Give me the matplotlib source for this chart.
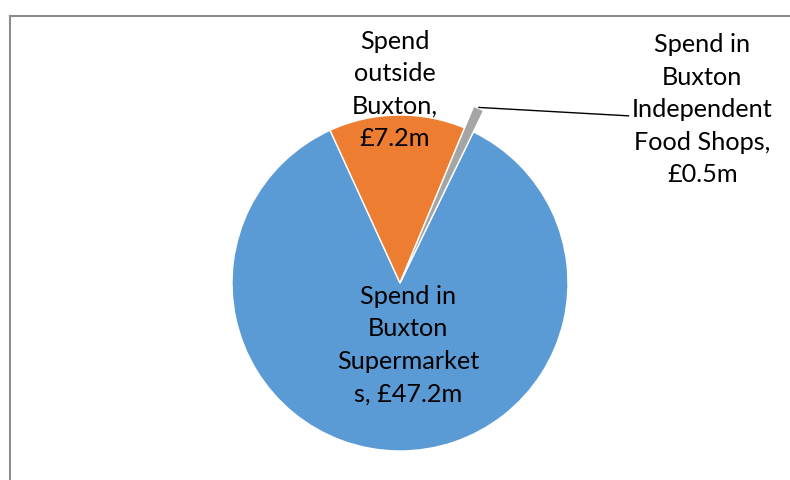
import matplotlib
matplotlib.use("Agg")
import matplotlib.pyplot as plt
from matplotlib.lines import Line2D

# Spend categories (£m)
labels = ["Spend in\nBuxton\nSupermarket\ns, £47.2m",
          "Spend\noutside\nBuxton,\n£7.2m",
          "Spend in\nBuxton\nIndependent\nFood Shops,\n£0.5m"]
values = [47.2, 7.2, 0.5]
colors = ["#5B9BD5", "#ED7D31", "#A5A5A5"]

W, H = 790, 480
fig = plt.figure(figsize=(W / 100, H / 100), dpi=100)
fig.patch.set_facecolor("white")

cx, cy, r = 400, 283, 168
ax = fig.add_axes([(cx - r) / W, (H - cy - r) / H, 2 * r / W, 2 * r / H])
ax.set_xlim(-1, 1)
ax.set_ylim(-1, 1)
ax.set_aspect("equal")
ax.axis("off")

wedges, _ = ax.pie(values, colors=colors, startangle=90 - 25.9, counterclock=False,
                   radius=1.0, wedgeprops=dict(edgecolor="white", linewidth=1.0))
ax.set_xlim(-1, 1)
ax.set_ylim(-1, 1)
# small slice sticks out beyond the rim
wedges[2].set_radius(1.14)

font = dict(family=["Lato", "DejaVu Sans"], fontsize=18.2, color="black",
            ha="center", va="center", linespacing=1.5)
ax.text(0.05, -0.37, labels[0], **font)
ax.text(-0.03, 1.15, labels[1], clip_on=False, **font)
ax.text(1.80, 1.03, labels[2], clip_on=False, **font)

# leader line to the small slice
ax.plot([0.47, 1.36], [1.045, 0.995], color="black", lw=1.0, clip_on=False)

# chart area border (top and left edges)
fig.add_artist(Line2D([10 / W, 1], [1 - 16 / H, 1 - 16 / H], color="#8c8c8c", lw=1.5))
fig.add_artist(Line2D([10 / W, 10 / W], [0, 1 - 16 / H], color="#8c8c8c", lw=1.5))

fig.savefig("out.png", dpi=100, facecolor="white")
